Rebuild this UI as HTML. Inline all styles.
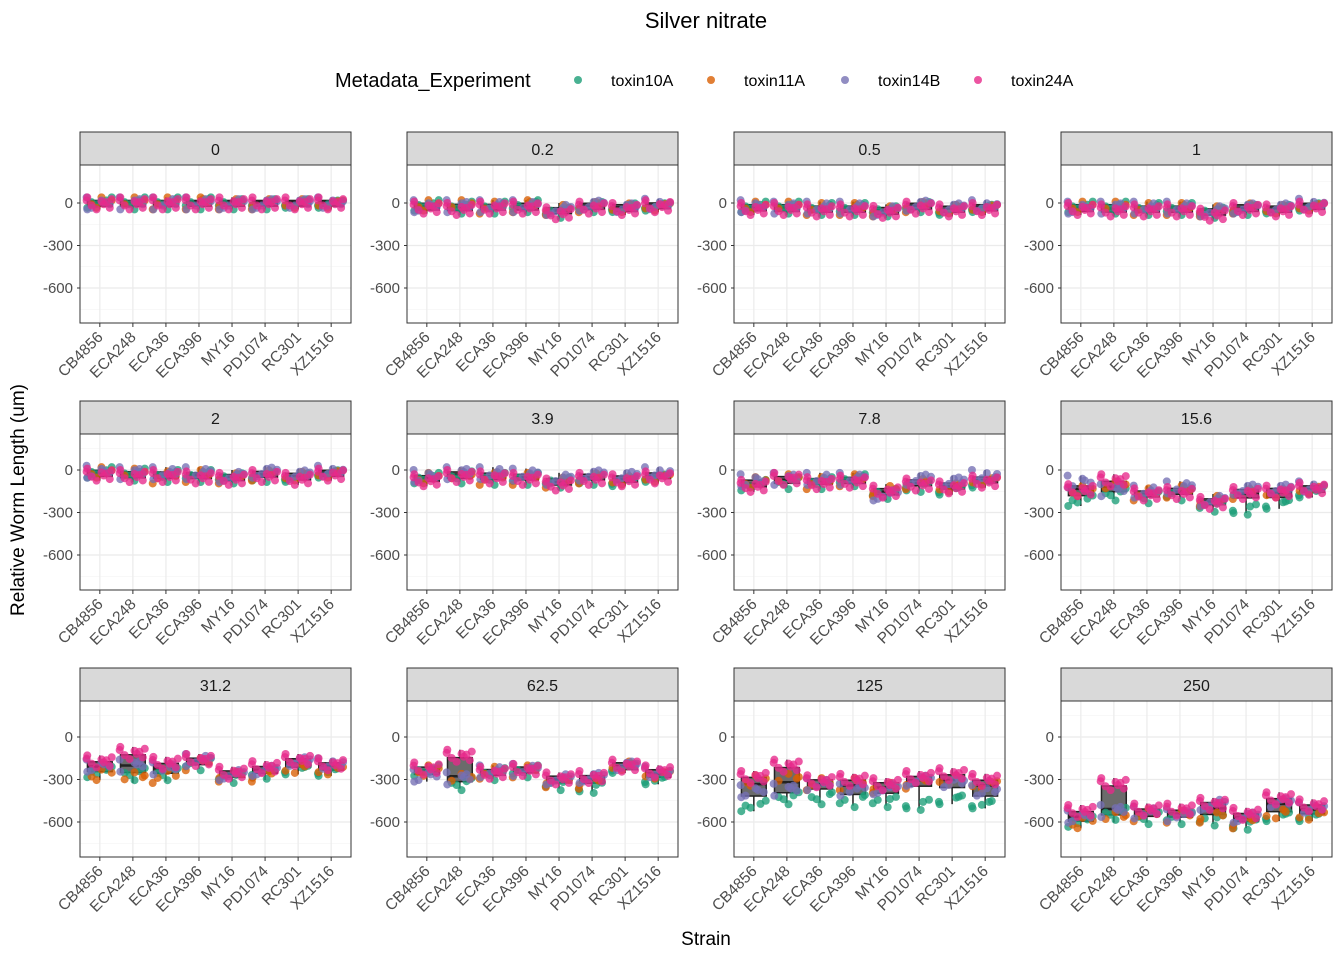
<!DOCTYPE html>
<html><head><meta charset="utf-8"><style>
body{margin:0;background:#fff;font-family:"Liberation Sans",Arial,sans-serif}
</style></head><body>
<svg id="chart" width="1344" height="960" xmlns="http://www.w3.org/2000/svg" font-family="Liberation Sans, Arial, sans-serif">
<text x="706" y="28" font-size="22" text-anchor="middle" fill="#000">Silver nitrate</text>
<g font-size="16" fill="#000">
<text x="335" y="87" font-size="20">Metadata_Experiment</text>
<circle cx="578" cy="80" r="4" fill="#1B9E77" fill-opacity="0.8"/>
<text x="611" y="86">toxin10A</text>
<circle cx="711" cy="80" r="4" fill="#D95F02" fill-opacity="0.8"/>
<text x="744" y="86">toxin11A</text>
<circle cx="845" cy="80" r="4" fill="#7570B3" fill-opacity="0.8"/>
<text x="878" y="86">toxin14B</text>
<circle cx="978" cy="80" r="4" fill="#E7298A" fill-opacity="0.8"/>
<text x="1011" y="86">toxin24A</text>
</g>
<text x="706" y="945" font-size="19" text-anchor="middle">Strain</text>
<text transform="translate(24,500) rotate(-90)" font-size="19" text-anchor="middle">Relative Worm Length (um)</text>
<g id="panels"></g>
</svg>
<script>
const strains = ["CB4856","ECA248","ECA36","ECA396","MY16","PD1074","RC301","XZ1516"];
const concentrations = ["0","0.2","0.5","1","2","3.9","7.8","15.6","31.2","62.5","125","250"];
const experiments = ["toxin10A","toxin11A","toxin14B","toxin24A"];
const yTicks = [0,-300,-600];
// per-panel, per-strain mean values for each experiment
const mean10A = [
[0,0,0,0,0,0,0,0],[-20,-30,-30,-20,-60,-20,-30,-20],[-30,-30,-40,-40,-50,-20,-50,-30],[-30,-30,-40,-40,-60,-40,-40,-20],
[-20,-30,-40,-40,-50,-40,-50,-20],[-60,-50,-60,-60,-80,-60,-80,-50],[-110,-90,-90,-70,-160,-110,-140,-90],[-220,-170,-190,-170,-250,-270,-240,-160],
[-250,-260,-260,-190,-280,-250,-230,-240],[-240,-330,-260,-240,-330,-350,-220,-300],[-490,-430,-430,-450,-450,-470,-440,-470],[-600,-540,-570,-570,-580,-610,-560,-560]];
const mean11A = [
[0,0,0,0,0,0,0,0],[-20,-20,-30,-20,-40,-20,-30,-20],[-30,-30,-40,-40,-50,-20,-40,-30],[-30,-30,-40,-40,-50,-30,-40,-20],
[-20,-30,-50,-40,-50,-30,-40,-20],[-60,-50,-60,-60,-80,-50,-70,-50],[-90,-70,-90,-70,-140,-90,-120,-70],[-150,-120,-170,-150,-210,-160,-160,-130],
[-270,-290,-280,-190,-270,-270,-220,-230],[-240,-300,-250,-240,-310,-320,-200,-260],[-310,-300,-330,-330,-350,-320,-300,-330],[-610,-570,-550,-560,-560,-600,-540,-550]];
const mean14B = [
[0,0,0,0,0,0,0,0],[-20,-20,-20,-20,-40,-10,-30,-10],[-20,-30,-30,-30,-50,-10,-30,-20],[-30,-30,-30,-30,-50,-30,-30,-10],
[-10,-20,-20,-20,-40,-10,-30,-10],[-40,-20,-20,-30,-60,-30,-40,-20],[-70,-60,-60,-60,-170,-60,-80,-40],[-80,-140,-150,-120,-210,-130,-130,-120],
[-200,-200,-220,-160,-260,-230,-170,-190],[-270,-290,-240,-230,-290,-280,-200,-250],[-380,-370,-330,-370,-360,-300,-320,-380],[-560,-520,-530,-550,-470,-560,-460,-500]];
const mean24A = [
[0,0,0,0,0,0,0,0],[-30,-40,-30,-30,-70,-30,-40,-20],[-40,-40,-50,-50,-60,-30,-50,-40],[-40,-50,-50,-50,-80,-40,-50,-30],
[-30,-40,-40,-50,-60,-40,-60,-30],[-70,-40,-50,-60,-100,-60,-70,-50],[-110,-60,-90,-80,-150,-100,-120,-80],[-140,-70,-170,-160,-230,-160,-150,-130],
[-170,-110,-180,-160,-250,-210,-160,-190],[-220,-130,-250,-230,-290,-280,-200,-240],[-280,-200,-310,-300,-330,-280,-260,-300],[-520,-330,-510,-510,-470,-540,-430,-480]];
const means = [mean10A, mean11A, mean14B, mean24A];
const counts = [5,4,6,9];
const colors = ["#1B9E77","#D95F02","#7570B3","#E7298A"];
// jitter pattern (visual scatter, not data)
const jx = [-0.38,0.2,-0.1,0.36,-0.25,0.05,0.3,-0.4,0.12];
const jy = [-34,18,-9,40,6,-45,27,-18,12];

const cols=[80,407,734,1061], stripTop=[132,401,668], panelTop=[165,434,701], panelBot=[323,590,857], zeroY=[203,470,737];
const W=271, step=W/8.2, k=42.5/300;
const NS="http://www.w3.org/2000/svg";
const root=document.getElementById('panels');
function el(t,a,p){const e=document.createElementNS(NS,t);for(const q in a)e.setAttribute(q,a[q]);(p||root).appendChild(e);return e;}
function q(arr,p){const s=[...arr].sort((a,b)=>a-b);const i=(s.length-1)*p,l=Math.floor(i);return s[l]+(s[Math.min(l+1,s.length-1)]-s[l])*(i-l);}

concentrations.forEach((c,pi)=>{
  const r=Math.floor(pi/4), ci=pi%4, x0=cols[ci];
  const xs=i=>x0+step*(0.6+i), ys=v=>zeroY[r]-v*k;
  const g=el('g',{});
  
  
  const bg=el('rect',{x:x0,y:panelTop[r],width:W,height:panelBot[r]-panelTop[r],fill:'#fff'},g);
  
  
  [150,-150,-450,-750].forEach(v=>{const l=el('line',{x1:x0,x2:x0+W,y1:ys(v),y2:ys(v),stroke:'#f2f2f2','stroke-width':0.6},g);
    });
  yTicks.forEach(v=>{const l=el('line',{x1:x0,x2:x0+W,y1:ys(v),y2:ys(v),stroke:'#ebebeb','stroke-width':1.2},g);
    
    const t=el('text',{x:x0-7,y:ys(v)+5,'font-size':15,fill:'#4d4d4d','text-anchor':'end'},g);t.textContent=v;
    
    el('line',{x1:x0-3,x2:x0,y1:ys(v),y2:ys(v),stroke:'#333'},g);});
  strains.forEach((s,si)=>{const l=el('line',{x1:xs(si),x2:xs(si),y1:panelTop[r],y2:panelBot[r],stroke:'#ebebeb','stroke-width':1.2},g);
    
    el('line',{x1:xs(si),x2:xs(si),y1:panelBot[r],y2:panelBot[r]+4,stroke:'#333'},g);
    const t=el('text',{x:xs(si)+4,y:panelBot[r]+15,'font-size':15.5,fill:'#4d4d4d','text-anchor':'end',transform:`rotate(-45 ${xs(si)+4} ${panelBot[r]+15})`},g);t.textContent=s;
    });
  // boxes
  strains.forEach((s,si)=>{
    const vals=[];means.forEach((m,ei)=>{for(let j=0;j<counts[ei];j++)vals.push(m[pi][si]+jy[j]);});
    const q1=q(vals,0.25),md=q(vals,0.5),q3=q(vals,0.75),lo=Math.min(...vals),hi=Math.max(...vals);
    const bx=xs(si), bw=step*0.75;
    const w=el('line',{x1:bx,x2:bx,y1:ys(hi),y2:ys(lo),stroke:'#222','stroke-width':1.5},g);
    
    const b=el('rect',{x:bx-bw/2,y:ys(q3),width:bw,height:Math.max(1,ys(q1)-ys(q3)),fill:'#6b6b6b',stroke:'#222','stroke-width':1.5},g);
    
    el('line',{x1:bx-bw/2,x2:bx+bw/2,y1:ys(md),y2:ys(md),stroke:'#222','stroke-width':2.5},g);
  });
  // points
  means.forEach((m,ei)=>{strains.forEach((s,si)=>{for(let j=0;j<counts[ei];j++){
    const p=el('circle',{cx:xs(si)+jx[(j+ei*2+si)%9]*step,cy:ys(m[pi][si]+jy[(j+si)%9]),r:4,fill:colors[ei],'fill-opacity':0.78},g);
    
    }});});
  const fr=el('rect',{x:x0,y:panelTop[r],width:W,height:panelBot[r]-panelTop[r],fill:'none',stroke:'#333','stroke-width':1},g);
  
  const st=el('rect',{x:x0,y:stripTop[r],width:W,height:panelTop[r]-stripTop[r],fill:'#d9d9d9',stroke:'#333','stroke-width':1},g);
  
  const tt=el('text',{x:x0+W/2,y:stripTop[r]+23,'font-size':16,fill:'#1a1a1a','text-anchor':'middle'},g);tt.textContent=c;
  
});
</script>
</body></html>
